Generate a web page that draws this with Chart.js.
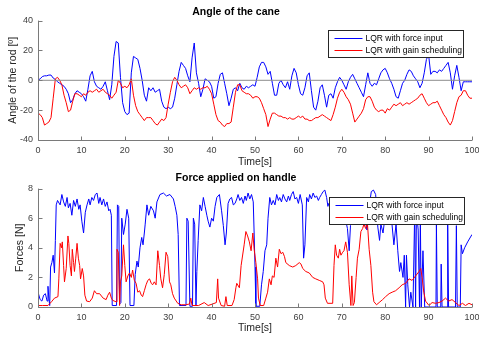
<!DOCTYPE html>
<html lang="en">
<head>
<meta charset="UTF-8">
<title>Cane controller comparison</title>
<script src="https://cdn.jsdelivr.net/npm/chart.js"></script>
<style>
  body { margin: 0; background: #fff; }
  .plot { position: absolute; left: 0; width: 479px; }
  #top { top: 0; height: 170px; }
  #bottom { top: 170px; height: 168px; }
</style>
</head>
<body>
<div class="plot" id="top"><canvas id="angleChart"></canvas></div>
<div class="plot" id="bottom"><canvas id="forceChart"></canvas></div>
<script>
// sample times of the angle traces [s]
const angleTime = [
  0, 0.5, 1, 1.5, 2, 2.5, 3, 3.5, 4, 4.5, 5, 5.5, 6, 6.5, 7, 7.5, 8, 8.5, 9, 9.5,
  10, 10.5, 11, 11.5, 12, 12.5, 13, 13.5, 14, 14.5, 15, 15.5, 16, 16.5, 17, 17.5, 18, 18.5, 19, 19.5,
  20, 20.5, 21, 21.5, 22, 22.5, 23, 23.5, 24, 24.5, 25, 25.5, 26, 26.5, 27, 27.5, 28, 28.5, 29, 29.5,
  30, 30.5, 31, 31.5, 32, 32.5, 33, 33.5, 34, 34.5, 35, 35.5, 36, 36.5, 37, 37.5, 38, 38.5, 39, 39.5,
  40, 40.5, 41, 41.5, 42, 42.5, 43, 43.5, 44, 44.5, 45, 45.5, 46, 46.5, 47, 47.5, 48, 48.5, 49, 49.5,
  50, 50.5, 51, 51.5, 52, 52.5, 53, 53.5, 54, 54.5, 55, 55.5, 56, 56.5, 57, 57.5, 58, 58.5, 59, 59.5,
  60, 60.5, 61, 61.5, 62, 62.5, 63, 63.5, 64, 64.5, 65, 65.5, 66, 66.5, 67, 67.5, 68, 68.5, 69, 69.5,
  70, 70.5, 71, 71.5, 72, 72.5, 73, 73.5, 74, 74.5, 75, 75.5, 76, 76.5, 77, 77.5, 78, 78.5, 79, 79.5,
  80, 80.5, 81, 81.5, 82, 82.5, 83, 83.5, 84, 84.5, 85, 85.5, 86, 86.5, 87, 87.5, 88, 88.5, 89, 89.5,
  90, 90.5, 91, 91.5, 92, 92.5, 93, 93.5, 94, 94.5, 95, 95.5, 96, 96.5, 97, 97.5, 98, 98.5, 99, 99.5,
  100
];

// rod angle [deg], LQR with force input
const angleForceInput = [
  0, 1, 2.5, 3, 3, 3.5, 3.5, 1.5, 0.5, -1,   -2, -3, -4, -6, -9, -15, -13, -9, -7, -8,
  -9, -11, -14, -6, 3, 6, -1, -4, -5, -6,    -4, -1, -7, -13, -3, 16, 26, 25, 2, -15,
  -21, -23, -22, 5, 16, 15, 14, 8, 0, -10,   -14, -5, -7, -5, -8, -7, -6, -14, -18, -19,
  -18, -19, -18, -12, -3, 6, 12, 10, 8, 3,   -1, 15, 25, 5, -2, -11, -6, 1, 0, -1,
  -4, -12, -11, -2, 4, 5, -2, -9, -17, -12,  -6, -5, -7, -2, -5, -6, -4, -5, -4, -3,
  -4, 2, 9, 12, 12, 9, 4, 6, -2, -10,        -10, -2, 0, -3, -5, -1, -6, 3, 8, 5,
  -3, -9, -10, -5, 3, 5, -7, -18, -20, -14,  -5, -3, -10, -18, -10, -9, -12, -5, -1, 2,
  0, -3, -6, -1, 2, 4, 1, -2, -5, -8,        -11, -3, 5, -2, -4, -2, -3, 1, 5, 7,
  8, 5, 1, -2, -6, -11, -12, -7, -2, 0,      4, 7, 6, 3, 1, -1, -5, -2, 5, 14,
  17, 4, 6, 6, 5, 7, 6, 8, 10, 12,           5, -6, 3, 10, 2, -7, -1, -1, -1, -1,
  -1
];

// rod angle [deg], LQR with gain scheduling
const angleGainSched = [
  -22, -23, -25, -30, -29, -28, -25, -12, 1, 2,   0, -3, -10, -15, -21, -20, -14, -9, -9, -10,
  -11, -9, -10, -8, -7, -8, -7, -6, -8, -7,       -6, -8, -9, -10, -12, -10, -8, 0, -2, -5,
  -4, -5, -3, 1, -10, -17, -21, -23, -25, -27,    -25, -25, -25, -27, -29, -30, -28, -26, -27, -25,
  -16, -8, -1, 2, 0, -3, -5, -4, -3, -5,          -9, -7, -5, -6, -5, -6, -5, -5, -4, -6,
  -9, -16, -23, -27, -28, -30, -31, -29, -29, -28, -18, -8, -3, -3, -7, -8, -9, -9, -10, -12,
  -11, -11, -12, -15, -19, -23, -31, -26, -22, -22, -23, -24, -24, -25, -25, -26, -25, -26, -26, -25,
  -24, -25, -24, -26, -26, -27, -27, -26, -25, -25, -24, -23, -24, -25, -26, -27, -23, -18, -12, -8,
  -6, -8, -11, -13, -16, -22, -28, -26, -24, -22,  -19, -13, -11, -11, -14, -18, -20, -21, -20, -20,
  -22, -19, -20, -18, -16, -17, -16, -15, -17, -16, -15, -16, -15, -14, -13, -12, -10, -9, -12, -15,
  -17, -16, -15, -15, -14, -17, -20, -23, -25, -28, -30, -27, -21, -15, -11, -10, -7, -7, -10, -12,
  -12
];

// reference line at 0 deg
const zeroLine = [[0, 0], [100, 0]];

// handle force [t s, N], LQR with force input
const forceForceInput = [
  [0,1.0],[0.5,0.5],[0.9,0.4],[1.3,0.8],[1.7,0.9],[2.1,0.4],[2.3,1.4],[2.5,0.6],[2.7,0.1],[2.9,2.7],
  [3.2,3.0],[3.5,3.5],[3.8,2.3],[4.0,4.5],[4.2,6.9],[4.5,7.2],[5.1,6.9],[5.5,7.6],[5.9,7.1],[6.3,6.8],
  [6.7,7.4],[7.0,6.7],[7.4,7.0],[7.8,6.2],[8.2,7.2],[8.6,6.8],[9.0,7.3],[9.4,6.6],[9.7,6.9],[10.1,5.8],
  [10.5,5.0],[10.9,6.4],[11.3,6.9],[11.7,7.3],[12.0,6.9],[12.4,7.4],[12.8,7.2],[13.2,7.6],[13.6,7.7],[14.0,7.0],
  [14.3,7.4],[14.7,6.9],[15.1,7.3],[15.5,6.8],[15.9,7.1],[16.3,6.5],[16.6,6.6],[16.9,6.2],[17.1,0.1],[18.1,0.1],
  [18.3,6.9],[18.6,6.8],[18.8,0.2],[19.1,0.3],[19.3,6.0],[19.7,4.9],[20.1,5.6],[20.5,6.6],[20.9,6.0],[21.2,0.1],
  [22.1,0.1],[22.4,2.2],[22.8,3.1],[23.1,2.7],[23.5,4.0],[23.9,4.7],[24.2,4.2],[24.5,5.0],[24.7,5.6],[25.1,6.9],
  [25.5,6.2],[26.0,6.8],[26.6,6.5],[27.0,6.0],[27.4,7.1],[28.1,7.6],[28.9,7.7],[29.6,7.5],[30.4,7.6],[31.2,7.3],
  [31.6,6.8],[32.0,6.2],[32.3,4.9],[32.6,0.1],[34.1,0.1],[34.3,6.0],[34.6,5.8],[35.0,0.05],[35.6,0.05],[35.8,6.0],
  [36.1,5.6],[36.4,0.1],[36.6,2.4],[36.9,4.5],[37.3,6.9],[37.7,6.5],[38.1,7.4],[38.5,6.8],[38.9,6.2],[39.2,5.8],
  [39.6,5.4],[40.0,6.0],[40.4,5.8],[40.8,6.8],[41.2,7.4],[41.8,7.6],[42.3,6.5],[42.7,5.5],[43.1,4.2],[43.4,5.0],
  [43.8,7.0],[44.2,7.3],[44.6,7.4],[45.0,6.9],[45.4,7.0],[45.8,7.3],[46.1,7.6],[46.5,7.2],[46.9,7.4],[47.3,7.0],
  [47.7,7.5],[48.0,7.2],[48.4,7.7],[48.8,7.3],[49.2,7.6],[49.6,7.1],[49.8,5.0],[50.0,2.7],[50.2,0.05],[51.1,0.05],
  [51.5,1.5],[51.9,2.4],[52.3,3.8],[52.7,4.2],[53.0,6.0],[53.4,7.4],[53.8,6.9],[54.2,7.2],[54.6,6.9],[55.0,7.6],
  [55.4,7.2],[55.7,7.4],[56.1,7.1],[56.5,7.6],[56.9,7.3],[57.3,7.1],[57.7,7.5],[58.0,7.2],[58.4,7.6],[58.8,7.8],
  [59.2,7.3],[59.6,7.4],[60.0,7.0],[60.4,7.6],[60.9,6.9],[61.2,3.3],[61.5,4.2],[61.9,7.4],[62.3,7.1],[62.6,7.6],
  [63.0,7.3],[63.4,7.7],[63.8,7.4],[64.2,7.5],[64.6,7.2],[64.9,7.4],[65.3,7.6],[65.7,7.8],[66.1,7.9],[66.5,7.4],
  [66.8,6.8],[67.0,7.0],[68.0,6.6],[69.0,7.0],[70.0,6.5],[70.8,6.0],[71.3,5.3],[71.7,3.8],[72.0,5.5],[72.5,6.8],
  [73.5,7.2],[74.5,6.8],[75.3,6.0],[75.8,5.2],[76.3,6.8],[76.8,7.8],[77.3,7.9],[77.8,7.6],[78.3,5.4],[78.7,4.5],
  [79.0,5.6],[79.5,5.0],[80.0,6.2],[81.0,6.6],[81.5,5.8],[82.0,4.2],[82.5,5.6],[82.9,3.8],[83.3,2.4],[83.6,3.0],
  [84.1,2.0],[84.4,3.5],[84.7,0.0],[84.9,3.5],[85.2,1.5],[85.6,0.0],[85.9,1.0],[86.4,0.0],[86.8,6.5],[87.0,0.0],
  [87.2,6.5],[87.6,5.2],[87.9,0.0],[88.1,6.0],[88.3,0.0],[88.7,3.8],[89.1,0.0],[91.7,0.0],[91.8,5.6],[92.0,0.0],
  [92.8,0.0],[92.9,2.9],[93.1,0.0],[94.3,0.0],[94.4,5.6],[94.6,0.0],[96.2,0.0],[96.4,5.5],[96.6,0.0],[97.3,0.0],
  [97.5,4.2],[97.8,3.6],[98.3,4.0],[99.0,4.4],[100,4.9]
];

// handle force [t s, N], LQR with gain scheduling
const forceGainSched = [
  [0,0.1],[1,0.1],[2.3,0.1],[3.1,0.35],[3.8,0.6],[4.6,0.7],[4.8,1.9],[5.1,4.3],[5.4,4.0],[5.6,4.4],
  [5.9,2.8],[6.1,1.7],[6.5,2.6],[6.9,4.8],[7.1,4.3],[7.4,2.8],[7.7,2.1],[7.9,3.9],[8.2,3.0],[8.4,2.4],
  [8.7,3.3],[9.0,4.3],[9.3,3.3],[9.6,2.8],[9.8,1.9],[10.2,2.6],[10.5,2.1],[10.8,0.8],[11.2,0.4],[11.9,0.36],
  [12.5,0.6],[13.0,1.1],[13.5,0.9],[14.2,0.9],[15.0,0.6],[15.7,0.5],[16.1,0.8],[16.5,1.0],[16.9,0.6],[17.2,0.45],
  [18.0,0.35],[18.2,3.9],[18.5,3.7],[18.8,0.1],[19.0,1.7],[19.3,2.1],[19.7,4.2],[20.0,2.8],[20.3,1.7],[20.7,2.1],
  [21.1,2.3],[21.5,2.0],[21.8,2.5],[22.2,1.8],[22.6,1.6],[23.0,1.0],[23.4,1.1],[23.8,0.8],[24.1,0.7],[24.5,1.1],
  [24.9,1.5],[25.3,1.8],[25.7,1.9],[26.1,1.6],[26.4,1.5],[26.8,1.7],[27.2,1.5],[27.6,3.8],[28.0,2.8],[28.3,1.9],
  [28.7,1.3],[29.1,2.2],[29.5,3.7],[29.9,3.4],[30.3,1.7],[30.6,1.5],[31.0,0.9],[31.4,0.6],[32.2,0.25],[33.0,0.15],
  [34.0,0.15],[34.9,0.2],[35.2,0.6],[35.5,0.1],[37.0,0.1],[38.3,0.3],[39.2,0.1],[40.2,0.2],[41.1,0.3],[41.4,1.9],
  [41.6,0.6],[42.2,0.1],[43.0,0.05],[43.3,0.7],[43.6,0.1],[44.7,0.1],[45.2,0.5],[45.6,1.3],[45.8,1.6],[46.4,1.3],
  [46.8,2.8],[47.5,4.2],[47.9,5.1],[48.3,4.8],[48.7,4.4],[49.1,3.8],[49.5,5.0],[49.8,3.9],[50.2,3.0],[50.6,1.9],
  [50.8,0.6],[51.2,0.1],[52.0,0.1],[52.5,0.6],[52.9,1.0],[53.3,1.9],[53.7,1.5],[54.0,2.1],[54.4,2.0],[54.8,3.3],
  [55.2,2.7],[55.6,3.9],[56.0,3.6],[56.4,3.7],[56.8,3.4],[57.1,3.0],[57.9,2.8],[58.7,2.7],[59.4,2.8],[60.2,3.0],
  [60.6,2.9],[61.0,2.6],[61.7,2.4],[62.5,2.3],[63.3,2.0],[64.0,1.9],[64.8,1.8],[65.6,1.7],[65.9,1.5],[66.2,0.6],
  [66.7,0.25],[67.9,0.25],[68.2,2.8],[68.5,4.2],[68.8,3.5],[69.2,3.3],[69.5,3.9],[69.8,3.5],[70.2,3.7],[70.5,3.8],
  [70.9,4.4],[71.3,3.7],[71.7,1.5],[72.1,0.1],[72.3,2.1],[72.6,0.1],[72.9,0.3],[73.3,2.0],[73.6,3.3],[74.0,3.9],
  [74.4,5.1],[74.8,5.3],[75.1,5.6],[75.5,5.3],[75.9,5.7],[76.3,3.9],[76.7,2.8],[77.1,1.0],[77.4,0.36],[78.0,0.15],
  [78.6,0.3],[79.4,0.5],[80.1,0.7],[80.9,0.9],[81.6,1.0],[82.4,1.1],[83.2,1.3],[83.9,1.5],[84.7,1.6],[85.5,1.9],
  [86.2,1.8],[87.0,2.1],[87.8,2.4],[88.2,2.6],[88.5,2.0],[88.9,1.0],[89.3,0.4],[90.1,0.1],[90.8,0.3],[91.6,0.25],
  [92.4,0.3],[93.1,0.4],[93.9,0.6],[94.6,0.4],[95.4,0.5],[96.2,0.3],[97.0,0.1],[97.8,0.25],[98.5,0.1],[99.3,0.25],
  [100,0.15]
];

const seriesNames = ['LQR with force input', 'LQR with gain scheduling'];
const seriesColors = ['#0000ff', '#ff0000'];

const FONT = "'Liberation Sans', Arial, sans-serif";
Chart.defaults.font.family = FONT;

// left/bottom axis lines with inward ticks
const axesBox = {
  id: 'axesBox',
  afterDraw(chart) {
    const { ctx, chartArea: a, scales: { x, y } } = chart;
    ctx.save();
    ctx.strokeStyle = '#7a7a7a';
    ctx.lineWidth = 1;
    ctx.beginPath();
    const l = Math.round(a.left) + 0.5, b = Math.round(a.bottom) + 0.5;
    ctx.moveTo(l, a.top);
    ctx.lineTo(l, b);
    ctx.lineTo(a.right, b);
    x.ticks.forEach(t => {
      const px = Math.round(x.getPixelForValue(t.value)) + 0.5;
      ctx.moveTo(px, b);
      ctx.lineTo(px, b - 4);
    });
    y.ticks.forEach(t => {
      const py = Math.round(y.getPixelForValue(t.value)) + 0.5;
      ctx.moveTo(l, py);
      ctx.lineTo(l + 4, py);
    });
    ctx.stroke();
    ctx.restore();
  }
};

// boxed legend inside the top-right of the plot area
const boxLegend = {
  id: 'boxLegend',
  afterDatasetsDraw(chart, args, opts) {
    const { ctx, chartArea: a } = chart;
    const w = 135, h = 27;
    const left = Math.round(a.right - opts.right - w) + 0.5;
    const top = Math.round(a.top + opts.top) + 0.5;
    ctx.save();
    ctx.fillStyle = '#fff';
    ctx.fillRect(left, top, w, h);
    ctx.strokeStyle = '#262626';
    ctx.lineWidth = 1;
    ctx.strokeRect(left, top, w, h);
    ctx.font = '8.5px ' + FONT;
    ctx.textBaseline = 'middle';
    seriesNames.forEach((name, i) => {
      const cy = Math.round(top + 7.5 + i * 12.3) + 0.5;
      ctx.strokeStyle = seriesColors[i];
      ctx.beginPath();
      ctx.moveTo(left + 6, cy);
      ctx.lineTo(left + 34, cy);
      ctx.stroke();
      ctx.fillStyle = '#000';
      ctx.fillText(name, left + 37, cy);
    });
    ctx.restore();
  }
};

function lineSet(data, color, order) {
  return {
    data, order,
    borderColor: color,
    borderWidth: 1,
    pointRadius: 0,
    tension: 0,
    fill: false
  };
}

function makeOptions(cfg) {
  return {
    responsive: true,
    maintainAspectRatio: false,
    animation: false,
    devicePixelRatio: 1,
    parsing: false,
    layout: { padding: { left: 0, right: 7, top: 0, bottom: 0 } },
    plugins: {
      legend: { display: false },
      tooltip: { enabled: false },
      title: {
        display: true,
        text: cfg.title,
        color: '#000',
        font: { size: 10.5, weight: 'bold' },
        padding: cfg.titlePad
      },
      boxLegend: { right: cfg.legendRight, top: cfg.legendTop }
    },
    scales: {
      x: {
        type: 'linear',
        min: 0, max: 100,
        grid: { display: false, drawTicks: false },
        border: { display: false },
        ticks: { stepSize: 10, padding: 5, color: '#404040', font: { size: 9 }, maxRotation: 0 },
        title: { display: true, text: 'Time[s]', color: '#262626', font: { size: 10.5 }, padding: { top: 0, bottom: cfg.xTitlePad } },
        // fixed axis height; let the "100" label run into the margin
        afterFit(s) { s.height = cfg.xHeight; s.paddingLeft = 0; s.paddingRight = 0; }
      },
      y: {
        type: 'linear',
        min: cfg.yMin, max: cfg.yMax,
        grid: { display: false, drawTicks: false },
        border: { display: false },
        ticks: { stepSize: cfg.yStep, padding: 5, color: '#404040', font: { size: 9 } },
        title: { display: true, text: cfg.yTitle, color: '#262626', font: { size: 10.5 }, padding: { top: cfg.yTitlePad, bottom: 0 } },
        afterFit(s) { s.width = 38; }
      }
    }
  };
}

const toPoints = pairs => pairs.map(([t, v]) => ({ x: t, y: v }));

new Chart(document.getElementById('angleChart'), {
  type: 'line',
  data: {
    datasets: [
      lineSet(angleTime.map((t, i) => ({ x: t, y: angleForceInput[i] })), seriesColors[0], 3),
      lineSet(angleTime.map((t, i) => ({ x: t, y: angleGainSched[i] })), seriesColors[1], 2),
      lineSet(toPoints(zeroLine), '#8c8c8c', 1)
    ]
  },
  options: makeOptions({
    title: 'Angle of the cane',
    titlePad: { top: 5.5, bottom: 2.5 },
    yTitle: 'Angle of the rod [º]',
    yTitlePad: 6.5,
    yMin: -40, yMax: 40, yStep: 20,
    xHeight: 30, xTitlePad: 2,
    legendRight: 9, legendTop: 9
  }),
  plugins: [boxLegend, axesBox]
});

new Chart(document.getElementById('forceChart'), {
  type: 'line',
  data: {
    datasets: [
      lineSet(toPoints(forceForceInput), seriesColors[0], 2),
      lineSet(toPoints(forceGainSched), seriesColors[1], 1)
    ]
  },
  options: makeOptions({
    title: 'Force applied on handle',
    titlePad: { top: 2, bottom: 4 },
    yTitle: 'Forces [N]',
    yTitlePad: 13.5,
    yMin: 0, yMax: 8, yStep: 2,
    xHeight: 31, xTitlePad: 4,
    legendRight: 8, legendTop: 8
  }),
  plugins: [boxLegend, axesBox]
});
</script>
</body>
</html>
